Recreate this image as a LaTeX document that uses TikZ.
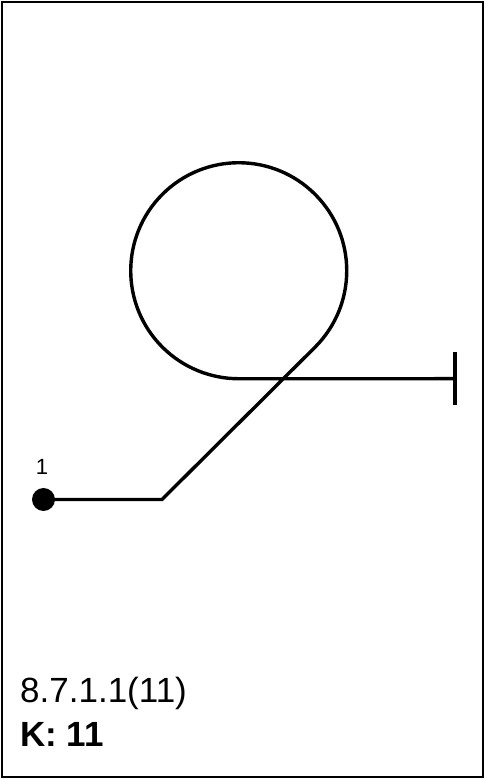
\documentclass[tikz,border=0pt]{standalone}
\usepackage{fontspec}
\setmainfont{Liberation Sans}
\usetikzlibrary{positioning}

\begin{document}
\begin{tikzpicture}[
  x=1pt, y=1pt,
  frame/.style={draw, line width=2.6pt},
  wire/.style={draw, line width=3.4pt, line join=miter},
  pin/.style={circle, fill, inner sep=0pt, minimum size=23pt},
  caption/.style={anchor=base west, inner sep=0pt, font=\fontsize{35}{42}\selectfont},
]
  \useasboundingbox (0,0) rectangle (486,780);
  \draw[frame] (2,3) rectangle (483,778);

  \node[pin] (start) at (43.5,280.5) {};
  \node[anchor=base, inner sep=0pt, font=\fontsize{22}{26}\selectfont] (pinlabel) at (42,305) {1};
  \coordinate (bend) at (162,280.5);
  \coordinate (touch) at (315.1,432.9);
  \coordinate (stop) at (455,401.3);

  \draw[wire] (start.center) -- (bend) -- (touch)
    arc[start angle=-45, end angle=270, radius=108] -- (stop);
  \draw[wire] ([yshift=-26.5pt]stop) -- ([yshift=26.5pt]stop);

  \node[caption] (code) at (20,77) {8.7.1.1(11)};
  \node[caption, font=\fontsize{35}{42}\selectfont\bfseries] (kval) at (20,33) {K: 11};
\end{tikzpicture}
\end{document}
